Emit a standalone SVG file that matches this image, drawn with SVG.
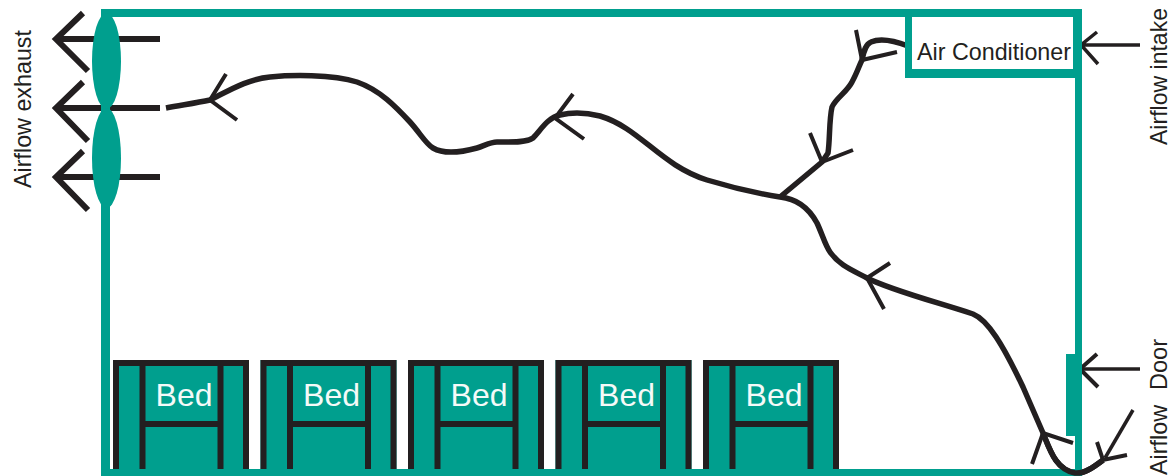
<svg xmlns="http://www.w3.org/2000/svg" width="1173" height="476" viewBox="0 0 1173 476">
<style>
.w{fill:#009f8e;stroke:none}
.c{fill:none;stroke:#231f20;stroke-width:5.5;stroke-linecap:butt;stroke-linejoin:round}
.b{fill:none;stroke:#231f20;stroke-width:4;stroke-linecap:butt;stroke-linejoin:miter}
.a{fill:none;stroke:#231f20;stroke-width:6;stroke-linejoin:miter}
.t{fill:none;stroke:#231f20;stroke-width:3.5;stroke-linejoin:miter}
.f{fill:none;stroke:#231f20;stroke-width:6}
text{font-family:"Liberation Sans",Arial,sans-serif;font-size:24px;fill:#231f20}
.bt{font-size:32px;fill:#f4faf8;text-anchor:middle}
</style>
<defs>
<g id="bed">
<rect class="w" x="113" y="360" width="136" height="112"/>
<path class="f" d="M116 470V363H246V470M142.500 363V470M220.500 363V470M142.500 424H220.500"/>
<text class="bt" x="184" y="406">Bed</text>
</g>
</defs>
<g id="connectors">
<path class="a" d="M56 39H160M83 13L56 39L88 71"/>
<path class="a" d="M56 108H160M83 82L56 108L88 141"/>
<path class="a" d="M56 177H160M83 151L56 177L88 210"/>
<path class="c" d="M166 108C182 105 196 103 210 100C230 90 248 79 270 77C290 75 332 74 357 82C380 90 396 107 410 122C420 133 426 144 433 148C445 155 466 151 477 148C484 146 490 142 497 142C510 142 526 143 533 138C541 130 547 118 560 115C572 112 588 113 600 116C640 128 660 165 707 180C730 187 755 193 780 197C800 199 811 212 817 223C823 236 825 245 830 252C840 266 852 270 867 278C890 290 940 303 973 314C988 320 1003 345 1023 387C1030 403 1037 419 1043 433C1050 450 1056 470 1075 473C1085 474 1095 466 1103 460"/>
<path class="c" d="M780 197L822 162L828 153C830 140 829 120 832 107C836 98 847 92 852 82C857 73 859 66 862 60C864 50 866 44 871 42C880 38 895 41 908 46"/>
<path class="b" d="M226 74L210 100L237 120"/>
<path class="b" d="M573 94L555 118L584 139"/>
<path class="b" d="M890 263L867 278L884 309"/>
<path class="b" d="M1032 464L1043 433L1073 443"/>
<path class="b" d="M810 133L822 162L853 150"/>
<path class="b" d="M856 30L862 60L897 52"/>
<path class="t" d="M1140 45H1081M1097 32L1081 45L1098 64"/>
<path class="t" d="M1140 369H1080"/>
<path class="b" d="M1097 354L1080 369L1098 387"/>
<path class="t" d="M1133 410L1105 458"/>
<path class="b" d="M1097 442L1103 460L1127 455"/>
</g>
<g id="room">
<path class="w" d="M101 9H1082V476H101ZM110 17V469H1075V78H905V17ZM912 17V69H1073V17Z" fill-rule="evenodd"/>
</g>
<g id="fan-upper"><ellipse class="w" cx="106.500" cy="61" rx="14.500" ry="48"/></g>
<g id="fan-lower"><ellipse class="w" cx="106.500" cy="158" rx="14.500" ry="50"/></g>
<g id="door"><rect class="w" x="1066" y="354" width="9" height="82"/></g>
<g id="bed-1"><use href="#bed"/></g>
<g id="bed-2"><use href="#bed" x="147.500"/></g>
<g id="bed-3"><use href="#bed" x="295"/></g>
<g id="bed-4"><use href="#bed" x="442.500"/></g>
<g id="bed-5"><use href="#bed" x="590"/></g>
<g id="floor"><rect class="w" x="101" y="469" width="981" height="7"/></g>
<path class="c" d="M1043 433C1050 450 1056 470 1075 473C1085 474 1095 466 1103 460"/>
<g id="labels">
<text id="air-conditioner" x="917" y="60" textLength="154" lengthAdjust="spacingAndGlyphs">Air Conditioner</text>
<text transform="translate(31 188) rotate(-90)" textLength="158" lengthAdjust="spacingAndGlyphs">Airflow exhaust</text>
<text transform="translate(1167 145) rotate(-90)" textLength="137" lengthAdjust="spacingAndGlyphs">Airflow intake</text>
<text transform="translate(1167 390) rotate(-90)" textLength="51" lengthAdjust="spacingAndGlyphs">Door</text>
<text transform="translate(1167 475) rotate(-90)" textLength="70" lengthAdjust="spacingAndGlyphs">Airflow</text>
</g>
</svg>
